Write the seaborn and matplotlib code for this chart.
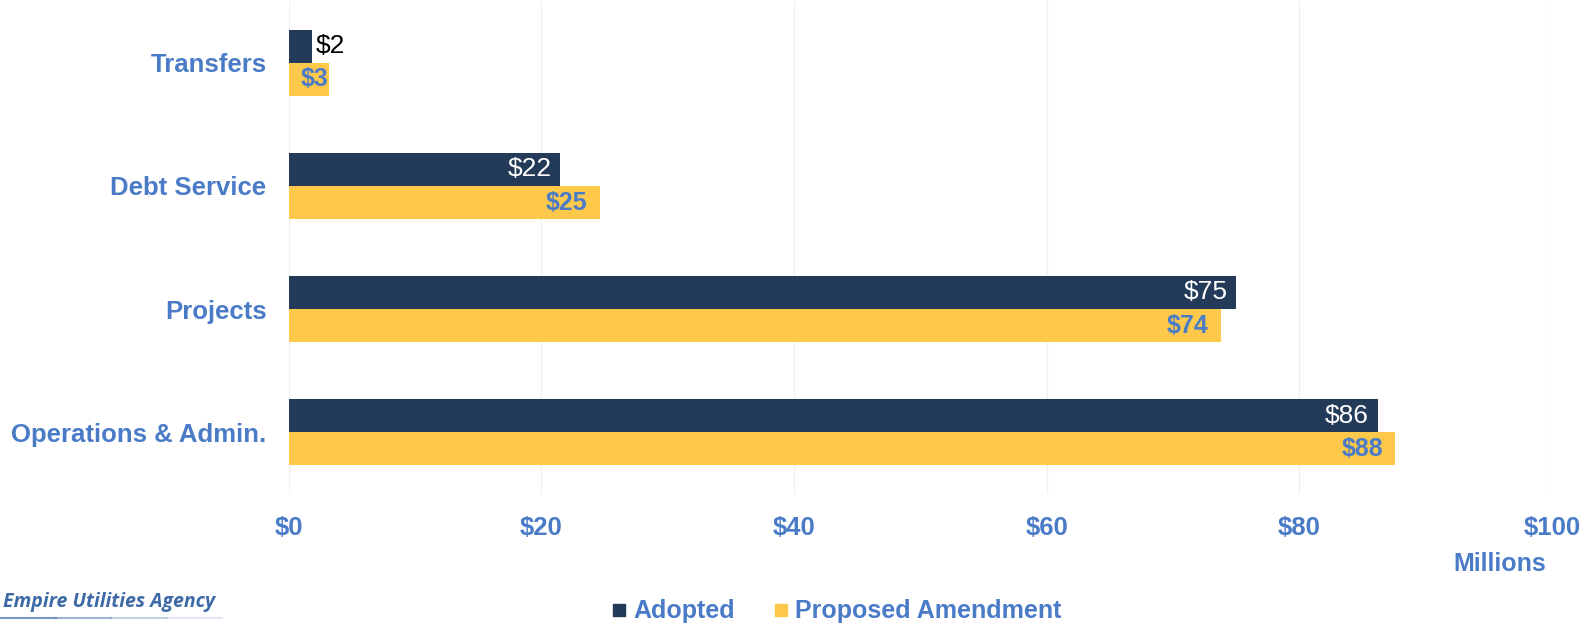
import pandas as pd
import numpy as np
import matplotlib.pyplot as plt
import seaborn as sns
from matplotlib.lines import Line2D

# Chart data (millions)
categories = ['Transfers', 'Debt Service', 'Projects', 'Operations & Admin.']
adopted = [1.8, 21.5, 75.0, 86.2]
proposed = [3.2, 24.6, 73.8, 87.6]
series_names = ['Adopted', 'Proposed Amendment']
x_ticks = [0, 20, 40, 60, 80, 100]

navy = '#243a59'
gold = '#fec94b'
blue = '#4a7bc7'

data = pd.DataFrame({
    'Category': categories * 2,
    'Value': adopted + proposed,
    'Series': [series_names[0]] * len(categories) + [series_names[1]] * len(categories),
})

sns.set_style('white')
plt.rcParams['font.family'] = ['Liberation Sans', 'DejaVu Sans']

fig = plt.figure(figsize=(15.87, 6.25), dpi=100)
ax = fig.add_axes([0.182, 0.21, 0.796, 0.788])

sns.barplot(data=data, y='Category', x='Value', hue='Series', order=categories,
            hue_order=series_names, palette=[navy, gold], orient='h',
            width=0.54, saturation=1, linewidth=0, legend=False, ax=ax)

ax.set_xlim(0, 100)
ax.set_ylim(3.5, -0.5)
ax.set_xticks(x_ticks)
ax.set_xticklabels([f'${t}' for t in x_ticks])
ax.set_xlabel('')
ax.set_ylabel('')
ax.grid(axis='x', color='#eef0f2', linewidth=1)
ax.set_axisbelow(True)
for s in ax.spines.values():
    s.set_visible(False)
ax.tick_params(axis='x', length=0, pad=16, labelsize=18.5, labelcolor=blue)
ax.tick_params(axis='y', length=0, pad=16, labelsize=18.5, labelcolor=blue)
for lab in ax.get_xticklabels() + ax.get_yticklabels():
    lab.set_fontweight('bold')

# Value labels
dark_bars, gold_bars = ax.containers[0], ax.containers[1]
for bar, v in zip(dark_bars, adopted):
    yc = bar.get_y() + bar.get_height() / 2
    if v < 5:
        ax.text(v + 0.3, yc, f'${v:.0f}', ha='left', va='center', fontsize=19, color='black')
    else:
        ax.text(v - 0.7, yc, f'${v:.0f}', ha='right', va='center', fontsize=19, color='white')
for bar, v in zip(gold_bars, proposed):
    yc = bar.get_y() + bar.get_height() / 2
    off = 0.1 if v < 5 else 1.0
    ax.text(v - off, yc, f'${v:.0f}', ha='right', va='center', fontsize=18,
            color=blue, fontweight='bold')

fig.text(0.945, 0.098, 'Millions', ha='center', va='center', fontsize=18,
         fontweight='bold', color=blue)

handles = [Line2D([], [], marker='s', linestyle='', markersize=8, color=navy),
           Line2D([], [], marker='s', linestyle='', markersize=8, color=gold)]
fig.legend(handles, series_names, loc='center', bbox_to_anchor=(0.527, 0.022), ncol=2,
           frameon=False, handlelength=0.6, handletextpad=0.25, columnspacing=1.55,
           prop={'size': 18, 'weight': 'bold'}, labelcolor=blue)

fig.text(0.002, 0.036, 'Empire Utilities Agency', ha='left', va='center', fontsize=14,
         style='italic', fontweight='bold', color='#3d6aa6', family='Open Sans')
for i, a in enumerate([0.7, 0.5, 0.3, 0.15]):
    fig.add_artist(Line2D([0.035 * i, 0.035 * (i + 1)], [0.012, 0.012],
                          color='#3d6aa6', linewidth=1.5, alpha=a))

fig.savefig('out.png', dpi=100)
